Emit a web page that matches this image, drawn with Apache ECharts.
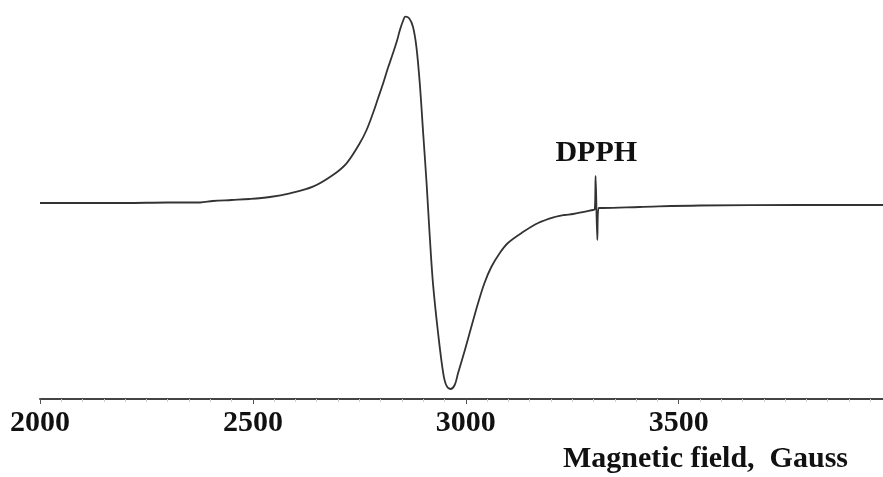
<!DOCTYPE html>
<html style="height: 100%">
	<head>
		<meta charset="utf-8" />
		<title>EPR spectrum</title>
		<script src="https://cdn.jsdelivr.net/npm/echarts@6/dist/echarts.min.js"></script>
	</head>
	<body style="height: 100%; margin: 0; background: #fff">
		<div id="container" style="width: 883px; height: 477px"></div>
		<script type="text/javascript">
			// magnetic field (Gauss) and signal (arbitrary units)
			let field = [
				2000, 2100, 2200, 2300, 2376, 2406, 2450, 2493, 2540, 2587,
				2641, 2688, 2720, 2751, 2767, 2782, 2794, 2806, 2817, 2829,
				2839, 2845, 2853, 2858, 2867, 2876, 2884, 2892, 2900, 2908,
				2915, 2923, 2935, 2947, 2954, 2964, 2974, 2982, 2998, 3013,
				3029, 3044, 3060, 3080, 3099, 3131, 3170, 3209, 3232, 3252,
				3299, 3303, 3305, 3309, 3312, 3322, 3408, 3549, 3784, 3980
			];
			let signal = [
				0, 0, 0, 0.5, 0.5, 2, 3, 4, 6, 9.7,
				16.3, 28, 39.7, 59.7, 73, 89.7, 104.7, 119.7, 134.7, 149.7,
				163, 172.5, 182.5, 186.3, 184.7, 176.3, 156.3, 119.7, 69.7, 19.7,
				-30.3, -80.3, -130, -170, -182, -186, -182, -170, -147, -124,
				-100, -80, -64, -50, -40, -30, -20, -14, -12, -11,
				-7, -6.5, 27, -37, -5, -5, -4, -2.5, -2, -2
			];
			let fieldTicks = [2000, 2500, 3000, 3500];
			let markerName = "DPPH";
			let markerField = 3306.5;

			let points = field.map((g, i) => [g, signal[i]]);
			let serif = "'Liberation Serif', 'Times New Roman', serif";

			let chart = echarts.init(document.getElementById("container"));
			chart.setOption({
				animation: false,
				grid: {left: 40, right: 0, top: 13, bottom: 78},
				xAxis: {
					type: "value",
					min: 2000,
					max: 3980, // picture is cut just short of 4000
					interval: 500,
					axisLine: {onZero: false, lineStyle: {color: "#444", width: 2}},
					axisTick: {length: 5, lineStyle: {color: "#555", width: 1}},
					minorTick: {show: true, splitNumber: 10, length: 3, lineStyle: {color: "#ccc"}},
					splitLine: {show: false},
					axisLabel: {
						margin: 9,
						fontFamily: serif,
						fontWeight: "bold",
						fontSize: 30,
						color: "#111",
						showMaxLabel: false,
						formatter: (v) => fieldTicks.indexOf(v) >= 0 ? String(v) : ""
					}
				},
				yAxis: {
					type: "value",
					min: -196,
					max: 190,
					show: false
				},
				graphic: [{
					type: "text",
					left: 563,
					top: 444,
					style: {
						text: "Magnetic field,  Gauss",
						font: "bold 30px " + serif,
						fill: "#111"
					}
				}],
				series: [{
					type: "line",
					data: points,
					showSymbol: false,
					smooth: 0.35,
					lineStyle: {color: "#333", width: 1.8},
					markPoint: {
						symbol: "circle",
						symbolSize: 0,
						data: [{coord: [markerField, 50]}],
						label: {
							show: true,
							position: "inside",
							formatter: markerName,
							fontFamily: serif,
							fontWeight: "bold",
							fontSize: 30,
							color: "#111"
						}
					}
				}]
			});
		</script>
	</body>
</html>
